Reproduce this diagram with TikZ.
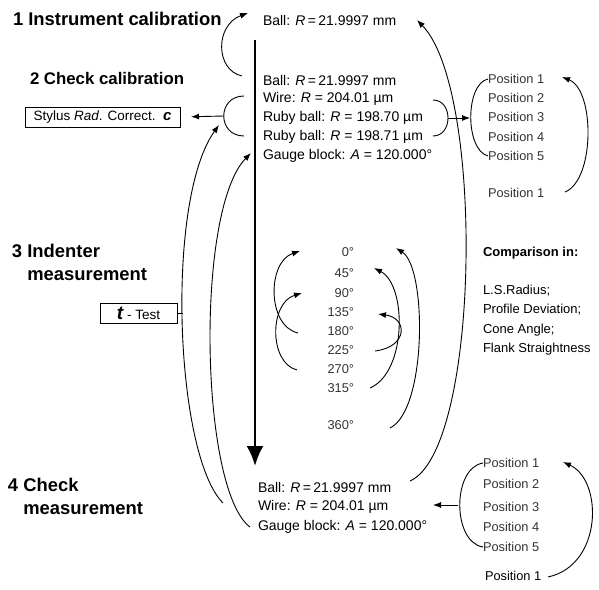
\documentclass[tikz,border=0pt]{standalone}
\usepackage{fontspec}
\setmainfont{Liberation Sans}
\usetikzlibrary{arrows.meta}

\begin{document}
\begin{tikzpicture}[x=1pt,y=-1pt,
  every node/.style={inner sep=0pt, outer sep=0pt},
  head/.style={font=\fontsize{18.4}{23}\selectfont\bfseries, anchor=west, align=left},
  val/.style={font=\fontsize{14}{16}\selectfont, anchor=west},
  posn/.style={font=\fontsize{12.8}{15}\selectfont, anchor=west, text=black!80},
  ang/.style={font=\fontsize{12.8}{15}\selectfont, anchor=east, text=black!80},
  cmp/.style={font=\fontsize{13}{15}\selectfont, anchor=west},
  link/.style={line width=0.9pt, -{Latex[length=8pt,width=6pt]}},
  plain/.style={line width=0.9pt},
  framebox/.style={draw, line width=1pt, minimum height=20pt, anchor=west, inner xsep=5pt,
    align=left, font=\fontsize{13.5}{16}\selectfont}
]
\useasboundingbox (0,0) rectangle (599,589);

% step headings
\node[head] (h1) at (13,19) {1 Instrument calibration};
\node[head, font=\fontsize{16.8}{20}\selectfont\bfseries] (h2) at (30,78) {2 Check calibration};
\node[head] (h3) at (12,262) {3 Indenter\\\phantom{3 }measurement};
\node[head] (h4) at (8,496) {4 Check\\\phantom{4 }measurement};

% result boxes
\node[framebox, minimum width=155pt] (stylus) at (25,117) {Stylus \textit{Rad}. Correct.\ \ {\fontsize{15}{15}\selectfont\bfseries\itshape c}};
\node[framebox, minimum width=77pt] (tbox) at (100,313) {{\fontsize{19}{19}\selectfont\bfseries\itshape t} - Test};

% standards
\node[val] (b0) at (263,20) {Ball: \textit{R}\,=\,21.9997 mm};
\node[val] (b1) at (263,80) {Ball: \textit{R}\,=\,21.9997 mm};
\node[val] (w1) at (263,99) {Wire: \textit{R} = 204.01 µm};
\node[val] (r1) at (263,118) {Ruby ball: \textit{R} = 198.70 µm};
\node[val] (r2) at (263,137) {Ruby ball: \textit{R} = 198.71 µm};
\node[val] (g1) at (263,156) {Gauge block: \textit{A} = 120.000°};
\node[val] (b4) at (258,487) {Ball: \textit{R}\,=\,21.9997 mm};
\node[val] (w4) at (258,507) {Wire: \textit{R} = 204.01 µm};
\node[val] (g4) at (258,527) {Gauge block: \textit{A} = 120.000°};

% positions
\node[posn] (p1) at (488,79) {Position 1};
\node[posn] (p2) at (488,98) {Position 2};
\node[posn] (p3) at (488,117) {Position 3};
\node[posn] (p4) at (488,137) {Position 4};
\node[posn] (p5) at (488,156) {Position 5};
\node[posn] (p6) at (488,193) {Position 1};
\node[posn] (q1) at (483,463) {Position 1};
\node[posn] (q2) at (483,484) {Position 2};
\node[posn] (q3) at (483,507) {Position 3};
\node[posn] (q4) at (483,527) {Position 4};
\node[posn] (q5) at (483,547) {Position 5};
\node[posn, text=black] (q6) at (485,576) {Position 1};

% indenter angles
\node[ang] (a0) at (354,252) {0°};
\node[ang] (a45) at (354,273) {45°};
\node[ang] (a90) at (354,293) {90°};
\node[ang] (a135) at (354,312) {135°};
\node[ang] (a180) at (354,331) {180°};
\node[ang] (a225) at (354,350) {225°};
\node[ang] (a270) at (354,369) {270°};
\node[ang] (a315) at (354,388) {315°};
\node[ang] (a360) at (354,425) {360°};

% comparison list
\node[cmp, font=\fontsize{13}{15}\selectfont\bfseries] (cmp0) at (483,253) {Comparison in:};
\node[cmp] (cmp1) at (483,291) {L.S.Radius;};
\node[cmp] (cmp2) at (483,310) {Profile Deviation;};
\node[cmp] (cmp3) at (483,330) {Cone Angle;};
\node[cmp] (cmp4) at (483,349) {Flank Straightness};

% main time axis
\coordinate (vtop) at (255,40);
\coordinate (vbot) at (255,466);
\draw[line width=2.6pt, -{Latex[length=20pt,width=17pt]}] (vtop) -- (vbot);

% step 1 -> reference ball
\coordinate (c1s) at (242,76);
\coordinate (c1e) at (248,13);
\draw[link] (c1s) .. controls (215,70) and (215,25) .. (c1e);

% bracket round the step 2 standards, leading to the stylus correction
\coordinate (k2t) at (244,96);
\coordinate (k2m) at (224,116);
\coordinate (k2b) at (244,136);
\draw[plain] (k2t) .. controls (217,96) and (217,136) .. (k2b);
\draw[link, shorten >=11pt] (k2m) -- (stylus.east);

% bracket round the rubies, leading to the positions
\coordinate (k3t) at (433,100);
\coordinate (k3m) at (448,118);
\coordinate (k3b) at (433,136);
\coordinate (k4m) at (470,118);
\draw[plain] (k3t) .. controls (453,100) and (453,136) .. (k3b);
\draw[link] (k3m) -- (k4m);
\draw[plain] (p1.west) .. controls (465,84) and (465,150) .. (p5.west);
\coordinate (rp6) at (565,192);
\coordinate (rp1) at (562,77);
\draw[link] (rp6) .. controls (595,180) and (595,90) .. (rp1);

% long return paths
\coordinate (tjoin) at (183,313);
\coordinate (o1s) at (223,503);
\coordinate (o1e) at (219,125);
\draw[link] (o1s) .. controls (175,455) and (165,200) .. (o1e);
\draw[plain] (tbox.east) -- (tjoin);
\coordinate (o2s) at (250,527);
\coordinate (o2e) at (251,153);
\draw[link] (o2s) .. controls (200,490) and (195,210) .. (o2e);
\coordinate (o3s) at (410,481);
\coordinate (o3e) at (417,20);
\draw[link] (o3s) .. controls (480,450) and (485,90) .. (o3e);

% indenter rotation arcs
\coordinate (L1s) at (298,333);
\coordinate (L1e) at (300,251);
\draw[link] (L1s) .. controls (267,326) and (267,262) .. (L1e);
\coordinate (L2s) at (297,370);
\coordinate (L2e) at (302,293);
\draw[link] (L2s) .. controls (269,363) and (269,303) .. (L2e);
\coordinate (R1s) at (390,428);
\coordinate (R1e) at (396,248);
\draw[link] (R1s) .. controls (427,410) and (427,268) .. (R1e);
\coordinate (R2s) at (370,388);
\coordinate (R2e) at (374,268);
\draw[link] (R2s) .. controls (407,372) and (407,285) .. (R2e);
\coordinate (R3s) at (375,351);
\coordinate (R3e) at (378,314);
\draw[link] (R3s) .. controls (408,347) and (408,318) .. (R3e);

% step 4 positions
\coordinate (k5m) at (458,505);
\coordinate (k5e) at (433,505);
\draw[plain] (q1.west) .. controls (452,468) and (452,542) .. (q5.west);
\draw[link] (k5m) -- (k5e);
\coordinate (rq6) at (548,577);
\coordinate (rq1) at (563,462);
\draw[link] (rq6) .. controls (603,565) and (603,480) .. (rq1);
\end{tikzpicture}
\end{document}
